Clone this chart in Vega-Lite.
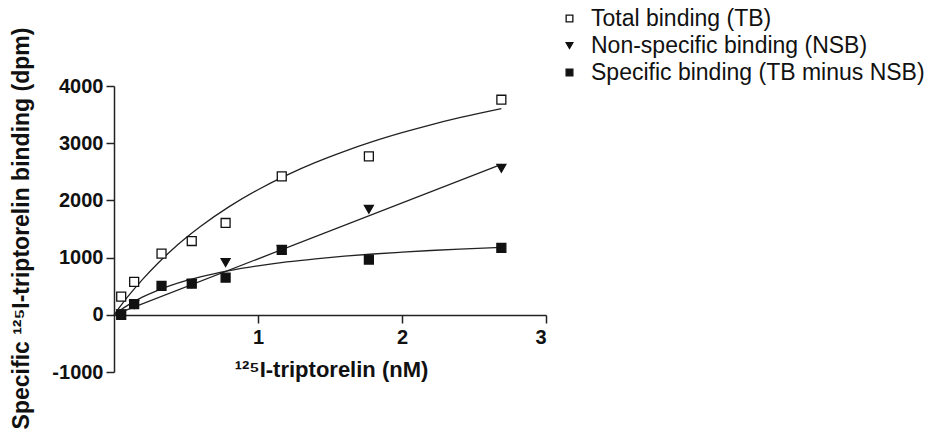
{
  "$schema": "https://vega.github.io/schema/vega-lite/v6.json",
  "width": 432,
  "height": 286,
  "autosize": {"type": "none"},
  "padding": {"left": 114, "top": 86, "right": 392, "bottom": 60},
  "background": "white",
  "config": {
    "view": {"stroke": null},
    "font": "Liberation Sans",
    "axis": {"grid": false, "domainColor": "#222", "tickColor": "#222", "domainWidth": 1.5, "tickWidth": 1.5, "labelColor": "#111", "titleColor": "#111", "labelFont": "Liberation Sans", "titleFont": "Liberation Sans", "labelFontWeight": "bold", "titleFontWeight": "bold", "labelFontSize": 20, "titleFontSize": 22, "tickSize": 8}
  },
  "datasets": {
    "points": [
      {"x": 0.05, "y": 318, "series": "Total binding (TB)"},
      {"x": 0.14, "y": 575, "series": "Total binding (TB)"},
      {"x": 0.33, "y": 1070, "series": "Total binding (TB)"},
      {"x": 0.54, "y": 1290, "series": "Total binding (TB)"},
      {"x": 0.775, "y": 1605, "series": "Total binding (TB)"},
      {"x": 1.165, "y": 2420, "series": "Total binding (TB)"},
      {"x": 1.77, "y": 2770, "series": "Total binding (TB)"},
      {"x": 2.69, "y": 3760, "series": "Total binding (TB)"},
      {"x": 0.05, "y": 20, "series": "Non-specific binding (NSB)"},
      {"x": 0.14, "y": 180, "series": "Non-specific binding (NSB)"},
      {"x": 0.54, "y": 545, "series": "Non-specific binding (NSB)"},
      {"x": 0.775, "y": 915, "series": "Non-specific binding (NSB)"},
      {"x": 1.165, "y": 1140, "series": "Non-specific binding (NSB)"},
      {"x": 1.77, "y": 1845, "series": "Non-specific binding (NSB)"},
      {"x": 2.69, "y": 2560, "series": "Non-specific binding (NSB)"},
      {"x": 0.05, "y": 0, "series": "Specific binding (TB minus NSB)"},
      {"x": 0.14, "y": 185, "series": "Specific binding (TB minus NSB)"},
      {"x": 0.33, "y": 505, "series": "Specific binding (TB minus NSB)"},
      {"x": 0.54, "y": 545, "series": "Specific binding (TB minus NSB)"},
      {"x": 0.775, "y": 650, "series": "Specific binding (TB minus NSB)"},
      {"x": 1.165, "y": 1135, "series": "Specific binding (TB minus NSB)"},
      {"x": 1.77, "y": 965, "series": "Specific binding (TB minus NSB)"},
      {"x": 2.69, "y": 1170, "series": "Specific binding (TB minus NSB)"}
    ],
    "curves": [
      {"x": 0, "y": 0, "c": "TB"},
      {"x": 0.05, "y": 170, "c": "TB"},
      {"x": 0.1, "y": 330, "c": "TB"},
      {"x": 0.2, "y": 624, "c": "TB"},
      {"x": 0.3, "y": 889, "c": "TB"},
      {"x": 0.4, "y": 1128, "c": "TB"},
      {"x": 0.5, "y": 1345, "c": "TB"},
      {"x": 0.6, "y": 1543, "c": "TB"},
      {"x": 0.8, "y": 1891, "c": "TB"},
      {"x": 1.0, "y": 2187, "c": "TB"},
      {"x": 1.2, "y": 2442, "c": "TB"},
      {"x": 1.4, "y": 2664, "c": "TB"},
      {"x": 1.6, "y": 2858, "c": "TB"},
      {"x": 1.8, "y": 3031, "c": "TB"},
      {"x": 2.0, "y": 3184, "c": "TB"},
      {"x": 2.2, "y": 3322, "c": "TB"},
      {"x": 2.4, "y": 3446, "c": "TB"},
      {"x": 2.69, "y": 3605, "c": "TB"},
      {"x": 0, "y": 0, "c": "NSB"},
      {"x": 2.69, "y": 2630, "c": "NSB"},
      {"x": 0, "y": 0, "c": "SB"},
      {"x": 0.05, "y": 92, "c": "SB"},
      {"x": 0.1, "y": 174, "c": "SB"},
      {"x": 0.2, "y": 312, "c": "SB"},
      {"x": 0.3, "y": 424, "c": "SB"},
      {"x": 0.4, "y": 517, "c": "SB"},
      {"x": 0.5, "y": 596, "c": "SB"},
      {"x": 0.6, "y": 663, "c": "SB"},
      {"x": 0.8, "y": 772, "c": "SB"},
      {"x": 1.0, "y": 856, "c": "SB"},
      {"x": 1.2, "y": 924, "c": "SB"},
      {"x": 1.4, "y": 978, "c": "SB"},
      {"x": 1.6, "y": 1024, "c": "SB"},
      {"x": 1.8, "y": 1063, "c": "SB"},
      {"x": 2.0, "y": 1095, "c": "SB"},
      {"x": 2.2, "y": 1124, "c": "SB"},
      {"x": 2.4, "y": 1149, "c": "SB"},
      {"x": 2.69, "y": 1180, "c": "SB"}
    ]
  },
  "layer": [
    {
      "data": {"name": "curves"},
      "mark": {"type": "line", "color": "#222", "strokeWidth": 1.3, "interpolate": "monotone"},
      "encoding": {
        "x": {"field": "x", "type": "quantitative", "scale": {"domain": [0, 3], "nice": false},
          "axis": {"values": [1, 2, 3], "format": "d", "offset": -57, "title": "¹²⁵I-triptorelin (nM)", "titleX": 217, "titleY": 44, "titleBaseline": "top", "labelPadding": 4}},
        "y": {"field": "y", "type": "quantitative", "scale": {"domain": [-1000, 4000], "nice": false},
          "axis": {"values": [-1000, 0, 1000, 2000, 3000, 4000], "labelExpr": "'' + datum.value", "title": "Specific ¹²⁵I-triptorelin binding (dpm)", "titleFontSize": 23, "titleX": -93, "titleY": 142, "titleAngle": -90, "titleBaseline": "middle", "labelPadding": 3}},
        "detail": {"field": "c"}
      }
    },
    {
      "data": {"name": "points"},
      "mark": {"type": "point", "stroke": "#111", "strokeWidth": 1.3, "opacity": 1, "size": 80},
      "encoding": {
        "x": {"field": "x", "type": "quantitative"},
        "y": {"field": "y", "type": "quantitative"},
        "shape": {"field": "series", "type": "nominal", "sort": null,
          "scale": {"domain": ["Total binding (TB)", "Non-specific binding (NSB)", "Specific binding (TB minus NSB)"], "range": ["square", "triangle-down", "square"]},
          "legend": {"title": null, "orient": "none", "legendX": 444, "legendY": -79, "labelFontSize": 23, "labelLimit": 0, "labelFont": "Liberation Sans", "labelColor": "#111", "symbolSize": 45, "rowPadding": 3, "labelOffset": 10, "symbolStrokeWidth": 1.3}},
        "fill": {"field": "series", "type": "nominal", "sort": null,
          "scale": {"domain": ["Total binding (TB)", "Non-specific binding (NSB)", "Specific binding (TB minus NSB)"], "range": ["white", "#111", "#111"]},
          "legend": {"title": null, "orient": "none", "legendX": 444, "legendY": -79, "labelFontSize": 23, "labelLimit": 0, "labelFont": "Liberation Sans", "labelColor": "#111", "symbolSize": 45, "rowPadding": 3, "labelOffset": 10, "symbolStrokeWidth": 1.3}}
      }
    }
  ]
}
